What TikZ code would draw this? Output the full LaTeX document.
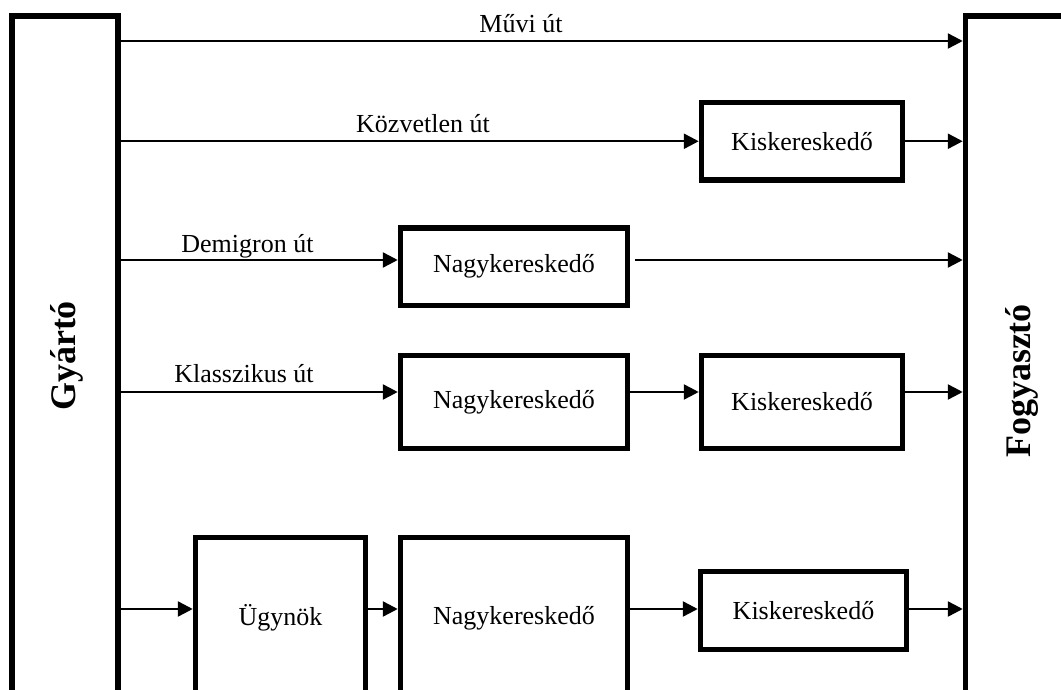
\documentclass[tikz,border=0pt]{standalone}
\usepackage{fontspec}
\setmainfont{Liberation Serif}
\usetikzlibrary{arrows.meta}
\begin{document}
\begin{tikzpicture}[x=1pt,y=-1pt,
  box/.style={draw, line width=5.5pt, inner sep=0pt, font=\fontsize{26}{30}\selectfont},
  arr/.style={line width=2.5pt, -{Triangle[length=15pt,width=15pt]}},
  lbl/.style={font=\fontsize{26}{30}\selectfont, anchor=base, inner sep=0pt},
  side/.style={font=\fontsize{36}{42}\selectfont\bfseries, rotate=90, inner sep=0pt},
]
\useasboundingbox (0,0) rectangle (1061,690);
\clip (0,0) rectangle (1061,690);

% producer and consumer columns
\node[box, minimum width=106pt, minimum height=704pt] (gy) at (65,368) {};
\node[box, minimum width=119pt, minimum height=714pt] (fo) at (1025,373) {};
\node[side] (gyt) at (67,356) {Gyártó};
\node[side] (fot) at (1022,381) {Fogyasztó};

% intermediaries
\node[box, minimum width=201pt, minimum height=77.5pt] (k2) at (802,141.25) {Kiskereskedő};
\node[box, minimum width=227pt, minimum height=77.5pt] (n3) at (514,266.75) {Nagykereskedő};
\node[box, minimum width=227pt, minimum height=93pt] (n4) at (514,402) {Nagykereskedő};
\node[box, minimum width=201pt, minimum height=93pt] (k4) at (802,402) {Kiskereskedő};
\node[box, minimum width=170pt, minimum height=161pt] (u5) at (280.5,618) {Ügynök};
\node[box, minimum width=227pt, minimum height=161pt] (n5) at (514,618) {Nagykereskedő};
\node[box, minimum width=206pt, minimum height=78pt] (k5) at (803.5,610.5) {Kiskereskedő};

% row heights of the channels
\coordinate (r1) at (0,41);
\coordinate (r3) at (0,260);
\coordinate (r4) at (0,392);
\coordinate (r5) at (0,609);

% channel labels
\node[lbl] (l1) at (521,33) {Művi út};
\node[lbl] (l2) at (423,133) {Közvetlen út};
\node[lbl] (l3) at (247.5,252) {Demigron út};
\node[lbl] (l4) at (244,382) {Klasszikus út};

% connectors
\draw[arr] (gy.east |- r1) -- (fo.west |- r1);
\draw[arr] (gy.east |- k2.west) -- (k2.west);
\draw[arr] (k2.east) -- (fo.west |- k2.east);
\draw[arr] (gy.east |- r3) -- (n3.west |- r3);
\draw[arr, shorten <=5pt] (n3.east |- r3) -- (fo.west |- r3);
\draw[arr] (gy.east |- r4) -- (n4.west |- r4);
\draw[arr] (n4.east |- r4) -- (k4.west |- r4);
\draw[arr] (k4.east |- r4) -- (fo.west |- r4);
\draw[arr] (gy.east |- r5) -- (u5.west |- r5);
\draw[arr] (u5.east |- r5) -- (n5.west |- r5);
\draw[arr] (n5.east |- r5) -- (k5.west |- r5);
\draw[arr] (k5.east |- r5) -- (fo.west |- r5);
\end{tikzpicture}
\end{document}
